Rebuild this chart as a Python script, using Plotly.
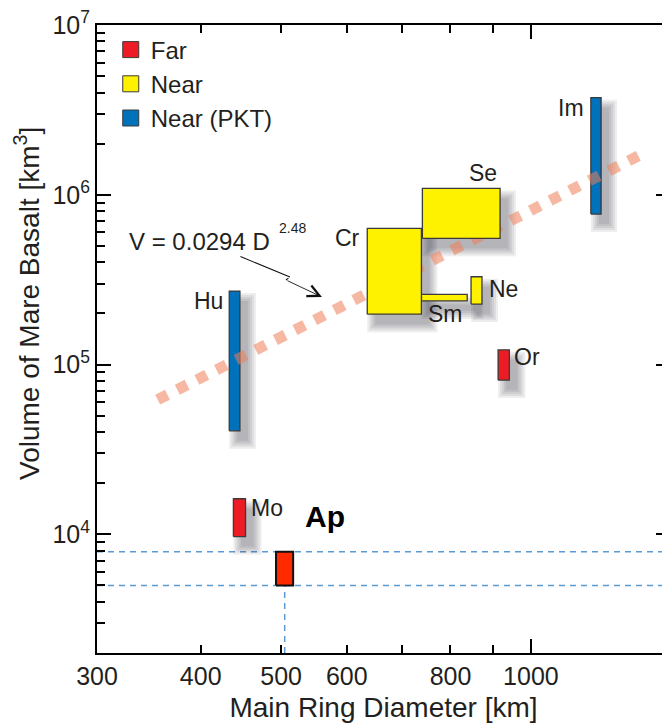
import math
import plotly.graph_objects as go

# ---------------- data ----------------
basins = ["Hu", "Mo", "Ap", "Or", "Sm", "Ne", "Cr", "Se", "Im"]
groups = ["Near (PKT)", "Far", "Far", "Far", "Near", "Near", "Near", "Near", "Near (PKT)"]
diam_min = [433, 438, 493, 913, 738, 847, 635, 740, 1181]      # km
diam_max = [446, 453, 517, 942, 838, 873, 738, 918, 1215]      # km
vol_min = [40700, 9700, 5000, 81000, 237000, 227000, 198000, 554000, 770000]      # km^3
vol_max = [271000, 16200, 7900, 122000, 259000, 329000, 634000, 1090000, 3730000]  # km^3

legend_names = ["Far", "Near", "Near (PKT)"]

# power-law fit V = a * D^b, drawn over this diameter span
fit_coef = 0.0294
fit_exp = 2.48
fit_diam = [355, 1360]

# Apollo reference lines
ap_vol_lines = [7900, 5000]
ap_diam_line = 505

# axes
x_range = [300, 1471]
y_range = [2000, 1e7]
x_tickvals = [300, 400, 500, 600, 700, 800, 900, 1000]
x_ticktext = ["300", "400", "500", "600", "", "800", "", "1000"]
y_tickvals = [1e4, 1e5, 1e6, 1e7]
y_ticktext = ["10<sup>4</sup>", "10<sup>5</sup>", "10<sup>6</sup>", "10<sup>7</sup>"]

# ---------------- styles ----------------
FONT = "Liberation Sans, Arial, Helvetica, sans-serif"
TXT = "#231F20"
COLORS = {"Far": "#ED1C24", "Near": "#FFF200", "Near (PKT)": "#0072BC"}
AP_COLOR = "#FF2A00"
EDGE = "#3A3A3A"

# the page body keeps its default 8px margin, so the figure is 8px smaller
W, H = 662, 715
M_L, M_R, M_T, M_B = 89, 0, 17, 70
plot_w = W - M_L - M_R
plot_h = H - M_T - M_B
lx0, lx1 = math.log10(x_range[0]), math.log10(x_range[1])
ly0, ly1 = math.log10(y_range[0]), math.log10(y_range[1])
ppd_x = plot_w / (lx1 - lx0)
ppd_y = plot_h / (ly1 - ly0)


def sx(v, px):
    return v * 10 ** (px / ppd_x)


def sy(v, px):  # px > 0 moves downwards
    return v * 10 ** (-px / ppd_y)


def rect(x0, x1, y0, y1):
    return [x0, x1, x1, x0, x0], [y0, y0, y1, y1, y0]


fig = go.Figure()

# Apollo dashed reference lines (below everything)
for v in ap_vol_lines:
    fig.add_trace(go.Scatter(x=x_range, y=[v, v], mode="lines",
                             line=dict(color="#5B9BD5", width=1.5, dash="6px,5px"),
                             showlegend=False, hoverinfo="skip"))
fig.add_trace(go.Scatter(x=[ap_diam_line, ap_diam_line], y=[y_range[0], min(ap_vol_lines)],
                         mode="lines", line=dict(color="#5B9BD5", width=1.5, dash="6px,5px"),
                         showlegend=False, hoverinfo="skip"))

# soft drop shadows (offset to the lower right)
SH_DX, SH_DY = 8, 10
for i in range(len(basins)):
    if basins[i] == "Ap":
        continue
    for g in [8, 6, 4, 2, 0]:
        xs, ys = rect(sx(diam_min[i], SH_DX - g), sx(diam_max[i], SH_DX + g),
                      sy(vol_min[i], SH_DY + g), sy(vol_max[i], SH_DY - g))
        fig.add_trace(go.Scatter(x=xs, y=ys, mode="lines", fill="toself",
                                 fillcolor="rgba(40,40,50,0.08)", line=dict(width=0),
                                 showlegend=False, hoverinfo="skip"))


def add_box(i):
    xs, ys = rect(diam_min[i], diam_max[i], vol_min[i], vol_max[i])
    is_ap = basins[i] == "Ap"
    fig.add_trace(go.Scatter(
        x=xs, y=ys, mode="lines", fill="toself",
        fillcolor=AP_COLOR if is_ap else COLORS[groups[i]],
        line=dict(color="#111111" if is_ap else EDGE, width=2 if is_ap else 1.3),
        name=basins[i], showlegend=False,
        hovertemplate=basins[i] + "<br>D %{x} km<br>V %{y} km³<extra></extra>"))


# blue (PKT) bars, then the fit line, then the others
for i in range(len(basins)):
    if groups[i] == "Near (PKT)":
        add_box(i)

fig.add_trace(go.Scatter(x=fit_diam, y=[fit_coef * d ** fit_exp for d in fit_diam],
                         mode="lines", line=dict(color="rgba(240,125,88,0.55)", width=11, dash="dot"),
                         showlegend=False, hoverinfo="skip"))

for grp in ["Near", "Far"]:
    for i in range(len(basins)):
        if groups[i] == grp and basins[i] != "Ap":
            add_box(i)
add_box(basins.index("Ap"))

# legend entries
for name in legend_names:
    fig.add_trace(go.Scatter(x=[None], y=[None], mode="markers", name=name,
                             marker=dict(symbol="square", size=20, color=COLORS[name],
                                         line=dict(color=EDGE, width=1))))

# basin labels: (corner x, corner y, xanchor, xshift px, yshift px)
label_pos = {
    "Hu": ("min", "max", "right", -4, -10),
    "Mo": ("max", "max", "left", 3, -9),
    "Ap": ("max", "max", "left", 10, 35),
    "Or": ("max", "max", "left", 3, -7),
    "Sm": ("min", "min", "left", 5, -13),
    "Ne": ("max", "max", "left", 5, -12),
    "Cr": ("min", "max", "right", -5, -10),
    "Se": ("max", "max", "right", -1, 15),
    "Im": ("min", "max", "right", -5, -10),
}
for i, b in enumerate(basins):
    cx, cy, xa, xsh, ysh = label_pos[b]
    xv = diam_min[i] if cx == "min" else diam_max[i]
    yv = vol_min[i] if cy == "min" else vol_max[i]
    is_ap = b == "Ap"
    fig.add_annotation(x=math.log10(xv), y=math.log10(yv), text=b, showarrow=False,
                       xanchor=xa, yanchor="middle", xshift=xsh, yshift=ysh,
                       font=dict(family=FONT, size=30 if is_ap else 23,
                                 color="#000000" if is_ap else TXT,
                                 weight="bold" if is_ap else "normal"))

# fit formula with a zig-zag pointer
tx, ty = math.log10(560), math.log10(250000)
fig.add_annotation(x=tx, y=ty, text="", showarrow=True, arrowhead=5, arrowsize=2.6,
                   arrowwidth=0.9, arrowcolor="#111111", ax=-36, ay=-17, standoff=0)
fig.add_annotation(x=tx, y=ty, text="", showarrow=True, arrowhead=0, arrowwidth=1.1,
                   arrowcolor="#111111", ax=4, ay=-3, xshift=-36, yshift=17)
fig.add_annotation(x=tx, y=ty, text="", showarrow=True, arrowhead=0, arrowwidth=1.1,
                   arrowcolor="#111111", ax=-51, ay=-21, xshift=-32, yshift=20)
fig.add_annotation(x=tx, y=ty, text="V = 0.0294 D", showarrow=False, xanchor="right",
                   yanchor="middle", xshift=-50, yshift=55,
                   font=dict(family=FONT, size=24, color=TXT))
fig.add_annotation(x=tx, y=ty, text="2.48", showarrow=False, xanchor="left",
                   yanchor="middle", xshift=-45, yshift=69,
                   font=dict(family=FONT, size=14, color=TXT))

# y-axis title (placed as in the reference, slightly above the axis centre)
fig.add_annotation(xref="paper", yref="paper",
                   x=(19 - M_L) / plot_w, y=1 - (296 - M_T) / plot_h,
                   text="Volume of Mare Basalt [km<sup>3</sup>]", textangle=-90,
                   showarrow=False, xanchor="center", yanchor="middle",
                   font=dict(family=FONT, size=28, color=TXT))

fig.update_layout(
    width=W, height=H,
    margin=dict(l=M_L, r=M_R, t=M_T, b=M_B, autoexpand=False),
    paper_bgcolor="white", plot_bgcolor="white",
    font=dict(family=FONT, size=24, color=TXT),
    showlegend=True,
    legend=dict(x=0.024, y=0.996, xanchor="left", yanchor="top",
                bgcolor="rgba(0,0,0,0)", font=dict(size=24, color=TXT),
                itemsizing="trace", tracegroupgap=0),
    hovermode="closest",
)

fig.update_xaxes(
    type="log", range=[lx0, lx1], showgrid=False, zeroline=False,
    showline=True, linecolor="#000000", linewidth=2, mirror="ticks",
    tickmode="array", tickvals=x_tickvals, ticktext=x_ticktext,
    ticks="inside", ticklen=8, tickwidth=1.5, tickcolor="#000000",
    tickfont=dict(size=25, color=TXT), ticklabeloverflow="allow",
    minor=dict(tickmode="array", tickvals=[1000], ticks="inside", ticklen=14,
               tickwidth=1.5, tickcolor="#000000", showgrid=False),
    title=dict(text="Main Ring Diameter [km]", font=dict(size=28, color=TXT), standoff=17),
    automargin=False,
)

y_minor = [m * 10 ** e for e in range(3, 7) for m in range(2, 10) if y_range[0] <= m * 10 ** e <= y_range[1]]
fig.update_yaxes(
    type="log", range=[ly0, ly1 + 1e-6], showgrid=False, zeroline=False,
    showline=True, linecolor="#000000", linewidth=2, mirror="ticks",
    tickmode="array", tickvals=y_tickvals, ticktext=y_ticktext,
    ticks="inside", ticklen=14, tickwidth=1.5, tickcolor="#000000",
    tickfont=dict(size=25, color=TXT), ticklabeloverflow="allow",
    minor=dict(tickmode="array", tickvals=y_minor, ticks="inside", ticklen=8,
               tickwidth=1.5, tickcolor="#000000", showgrid=False),
    automargin=False,
)

fig.write_html("out.html")
